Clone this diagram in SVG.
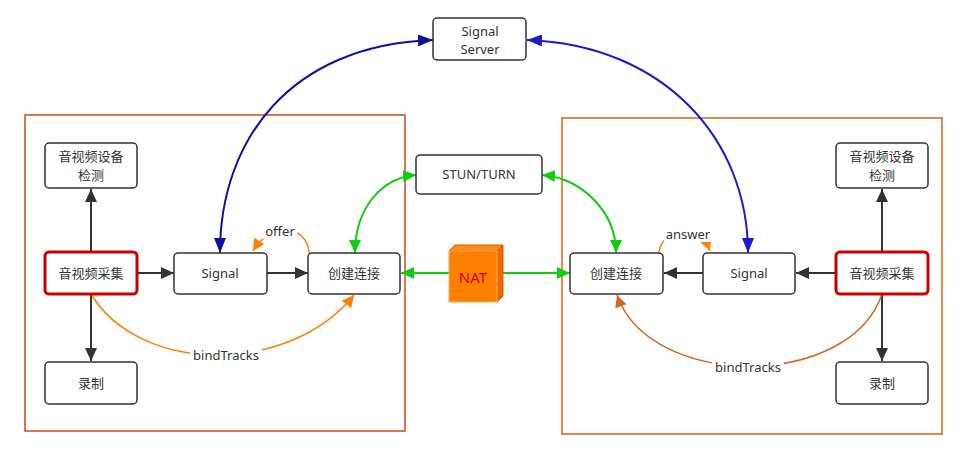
<svg xmlns="http://www.w3.org/2000/svg" width="968" height="450" viewBox="0 0 968 450">
<style>
.node{fill:#fff;stroke:#333;stroke-width:1.5}
.red{fill:#fff;stroke:#cc0000;stroke-width:3}
.t{font-family:"Noto Sans","Noto Sans CJK SC",sans-serif;font-size:13px;fill:#333;text-anchor:middle;dominant-baseline:central}
.lbl{font-family:"Noto Sans","Noto Sans CJK SC",sans-serif;font-size:13px;fill:#333;text-anchor:middle;dominant-baseline:central}
.blk{fill:none;stroke:#333;stroke-width:2}
.grn{fill:none;stroke:#11cc11;stroke-width:2}
.blu{fill:none;stroke-width:2}
.org{fill:none;stroke:#ff8000;stroke-width:1.5}
.org2{fill:none;stroke:#d2691e;stroke-width:1.5}
.box{fill:none;stroke-width:1.5}
</style>
<defs>
<marker id="ab" markerUnits="userSpaceOnUse" markerWidth="14" markerHeight="12" refX="13" refY="6" orient="auto-start-reverse"><path d="M0,0 L13,6 L0,12 z" fill="#333"/></marker>
<marker id="ag" markerUnits="userSpaceOnUse" markerWidth="14" markerHeight="12" refX="13" refY="6" orient="auto-start-reverse"><path d="M0,0 L13,6 L0,12 z" fill="#11cc11"/></marker>
<marker id="abl1" markerUnits="userSpaceOnUse" markerWidth="16" markerHeight="12" refX="15" refY="6" orient="auto-start-reverse"><path d="M0,0 L15,6 L0,12 z" fill="#1010a0"/></marker>
<marker id="abl2" markerUnits="userSpaceOnUse" markerWidth="16" markerHeight="12" refX="15" refY="6" orient="auto-start-reverse"><path d="M0,0 L15,6 L0,12 z" fill="#1a1acc"/></marker>
<marker id="ao" markerUnits="userSpaceOnUse" markerWidth="13" markerHeight="12" refX="12" refY="6" orient="auto"><path d="M0,0 L12,6 L0,12 z" fill="#ff8000"/></marker>
<marker id="ao2" markerUnits="userSpaceOnUse" markerWidth="13" markerHeight="12" refX="12" refY="6" orient="auto"><path d="M0,0 L12,6 L0,12 z" fill="#d2691e"/></marker>
</defs>

<rect class="box" x="25" y="115" width="380" height="316" stroke="#cc4a1a"/>
<rect class="box" x="562" y="118" width="380" height="316" stroke="#dd6611"/>

<g id="connectors">
<path class="blu" stroke="#1010a0" d="M433,40 C290,45 220,140 220,253" marker-start="url(#abl1)" marker-end="url(#abl1)"/>
<path class="blu" stroke="#1a1acc" d="M527,40 C665,45 748,140 748,253" marker-start="url(#abl2)" marker-end="url(#abl2)"/>
<path class="grn" d="M416,175 C380,178 355,210 355,253" marker-start="url(#ag)" marker-end="url(#ag)"/>
<path class="grn" d="M542,175 C580,178 616,210 616,253" marker-start="url(#ag)" marker-end="url(#ag)"/>
<path class="grn" d="M449,273 L401,273" marker-end="url(#ag)"/>
<path class="grn" d="M503,273 L570,273" marker-end="url(#ag)"/>
<path class="blk" d="M91,252 L91,189" marker-end="url(#ab)"/>
<path class="blk" d="M91,294 L91,361" marker-end="url(#ab)"/>
<path class="blk" d="M137,273 L174,273" marker-end="url(#ab)"/>
<path class="blk" d="M267,273 L308,273" marker-end="url(#ab)"/>
<path class="blk" d="M835,273 L796,273" marker-end="url(#ab)"/>
<path class="blk" d="M703,273 L664,273" marker-end="url(#ab)"/>
<path class="blk" d="M882,252 L882,189" marker-end="url(#ab)"/>
<path class="blk" d="M882,294 L882,361" marker-end="url(#ab)"/>
<path class="org" d="M91,294 C140,375 290,375 354,295" marker-end="url(#ao)"/>
<path class="org2" d="M882,294 C850,390 650,390 617,295" marker-end="url(#ao2)"/>
<path class="org" d="M309,253 C308,226 272,220 253,251" marker-end="url(#ao)"/>
<path class="org" d="M659,252 C662,228 700,225 710,251" marker-end="url(#ao)"/>
<rect x="190" y="346" width="72" height="17" fill="#fff"/>
<text class="lbl" x="226" y="355">bindTracks</text>
<rect x="712" y="358" width="72" height="17" fill="#fff"/>
<text class="lbl" x="748" y="367">bindTracks</text>
<rect x="263" y="223" width="34" height="16" fill="#fff"/>
<text class="lbl" x="280" y="231">offer</text>
<rect x="664" y="226" width="48" height="16" fill="#fff"/>
<text class="lbl" x="688" y="234">answer</text>
</g>

<g id="signal-server"><rect class="node" x="433" y="18" width="93" height="42" rx="4"/><text class="t" x="480" y="30.5">Signal</text><text class="t" x="480" y="48.5">Server</text></g>
<g id="stun-turn"><rect class="node" x="416" y="155" width="126" height="39" rx="4"/><text class="t" x="479" y="174">STUN/TURN</text></g>
<g id="nat">
<polygon points="449,251 455,245 503,245 497,251" fill="#ff8c1a" stroke="#e05a00" stroke-width="1"/>
<polygon points="497,251 503,245 503,296 497,302" fill="#e86a00" stroke="#e05a00" stroke-width="1"/>
<rect x="449" y="251" width="48" height="51" fill="#ff8000" stroke="#ffb060" stroke-width="1"/>
<text x="473" y="277" font-family="'Noto Sans',sans-serif" font-size="15" fill="#cc0000" text-anchor="middle" dominant-baseline="central">NAT</text>
</g>

<g id="l-detect"><rect class="node" x="45" y="143" width="92" height="45" rx="4"/><text class="t" x="91" y="156">音视频设备</text><text class="t" x="91" y="175">检测</text></g>
<g id="l-capture"><rect class="red" x="45" y="252" width="92" height="42" rx="4"/><text class="t" x="91" y="273">音视频采集</text></g>
<g id="l-record"><rect class="node" x="45" y="362" width="92" height="42" rx="4"/><text class="t" x="91" y="383">录制</text></g>
<g id="l-signal"><rect class="node" x="174" y="253" width="93" height="41" rx="4"/><text class="t" x="220" y="273">Signal</text></g>
<g id="l-connect"><rect class="node" x="308" y="253" width="92" height="41" rx="4"/><text class="t" x="354" y="273">创建连接</text></g>

<g id="r-connect"><rect class="node" x="570" y="253" width="93" height="41" rx="4"/><text class="t" x="616" y="273">创建连接</text></g>
<g id="r-signal"><rect class="node" x="703" y="253" width="92" height="41" rx="4"/><text class="t" x="749" y="273">Signal</text></g>
<g id="r-capture"><rect class="red" x="836" y="252" width="92" height="42" rx="4"/><text class="t" x="882" y="273">音视频采集</text></g>
<g id="r-detect"><rect class="node" x="836" y="143" width="92" height="45" rx="4"/><text class="t" x="882" y="156">音视频设备</text><text class="t" x="882" y="175">检测</text></g>
<g id="r-record"><rect class="node" x="836" y="362" width="92" height="42" rx="4"/><text class="t" x="882" y="383">录制</text></g>
</svg>
